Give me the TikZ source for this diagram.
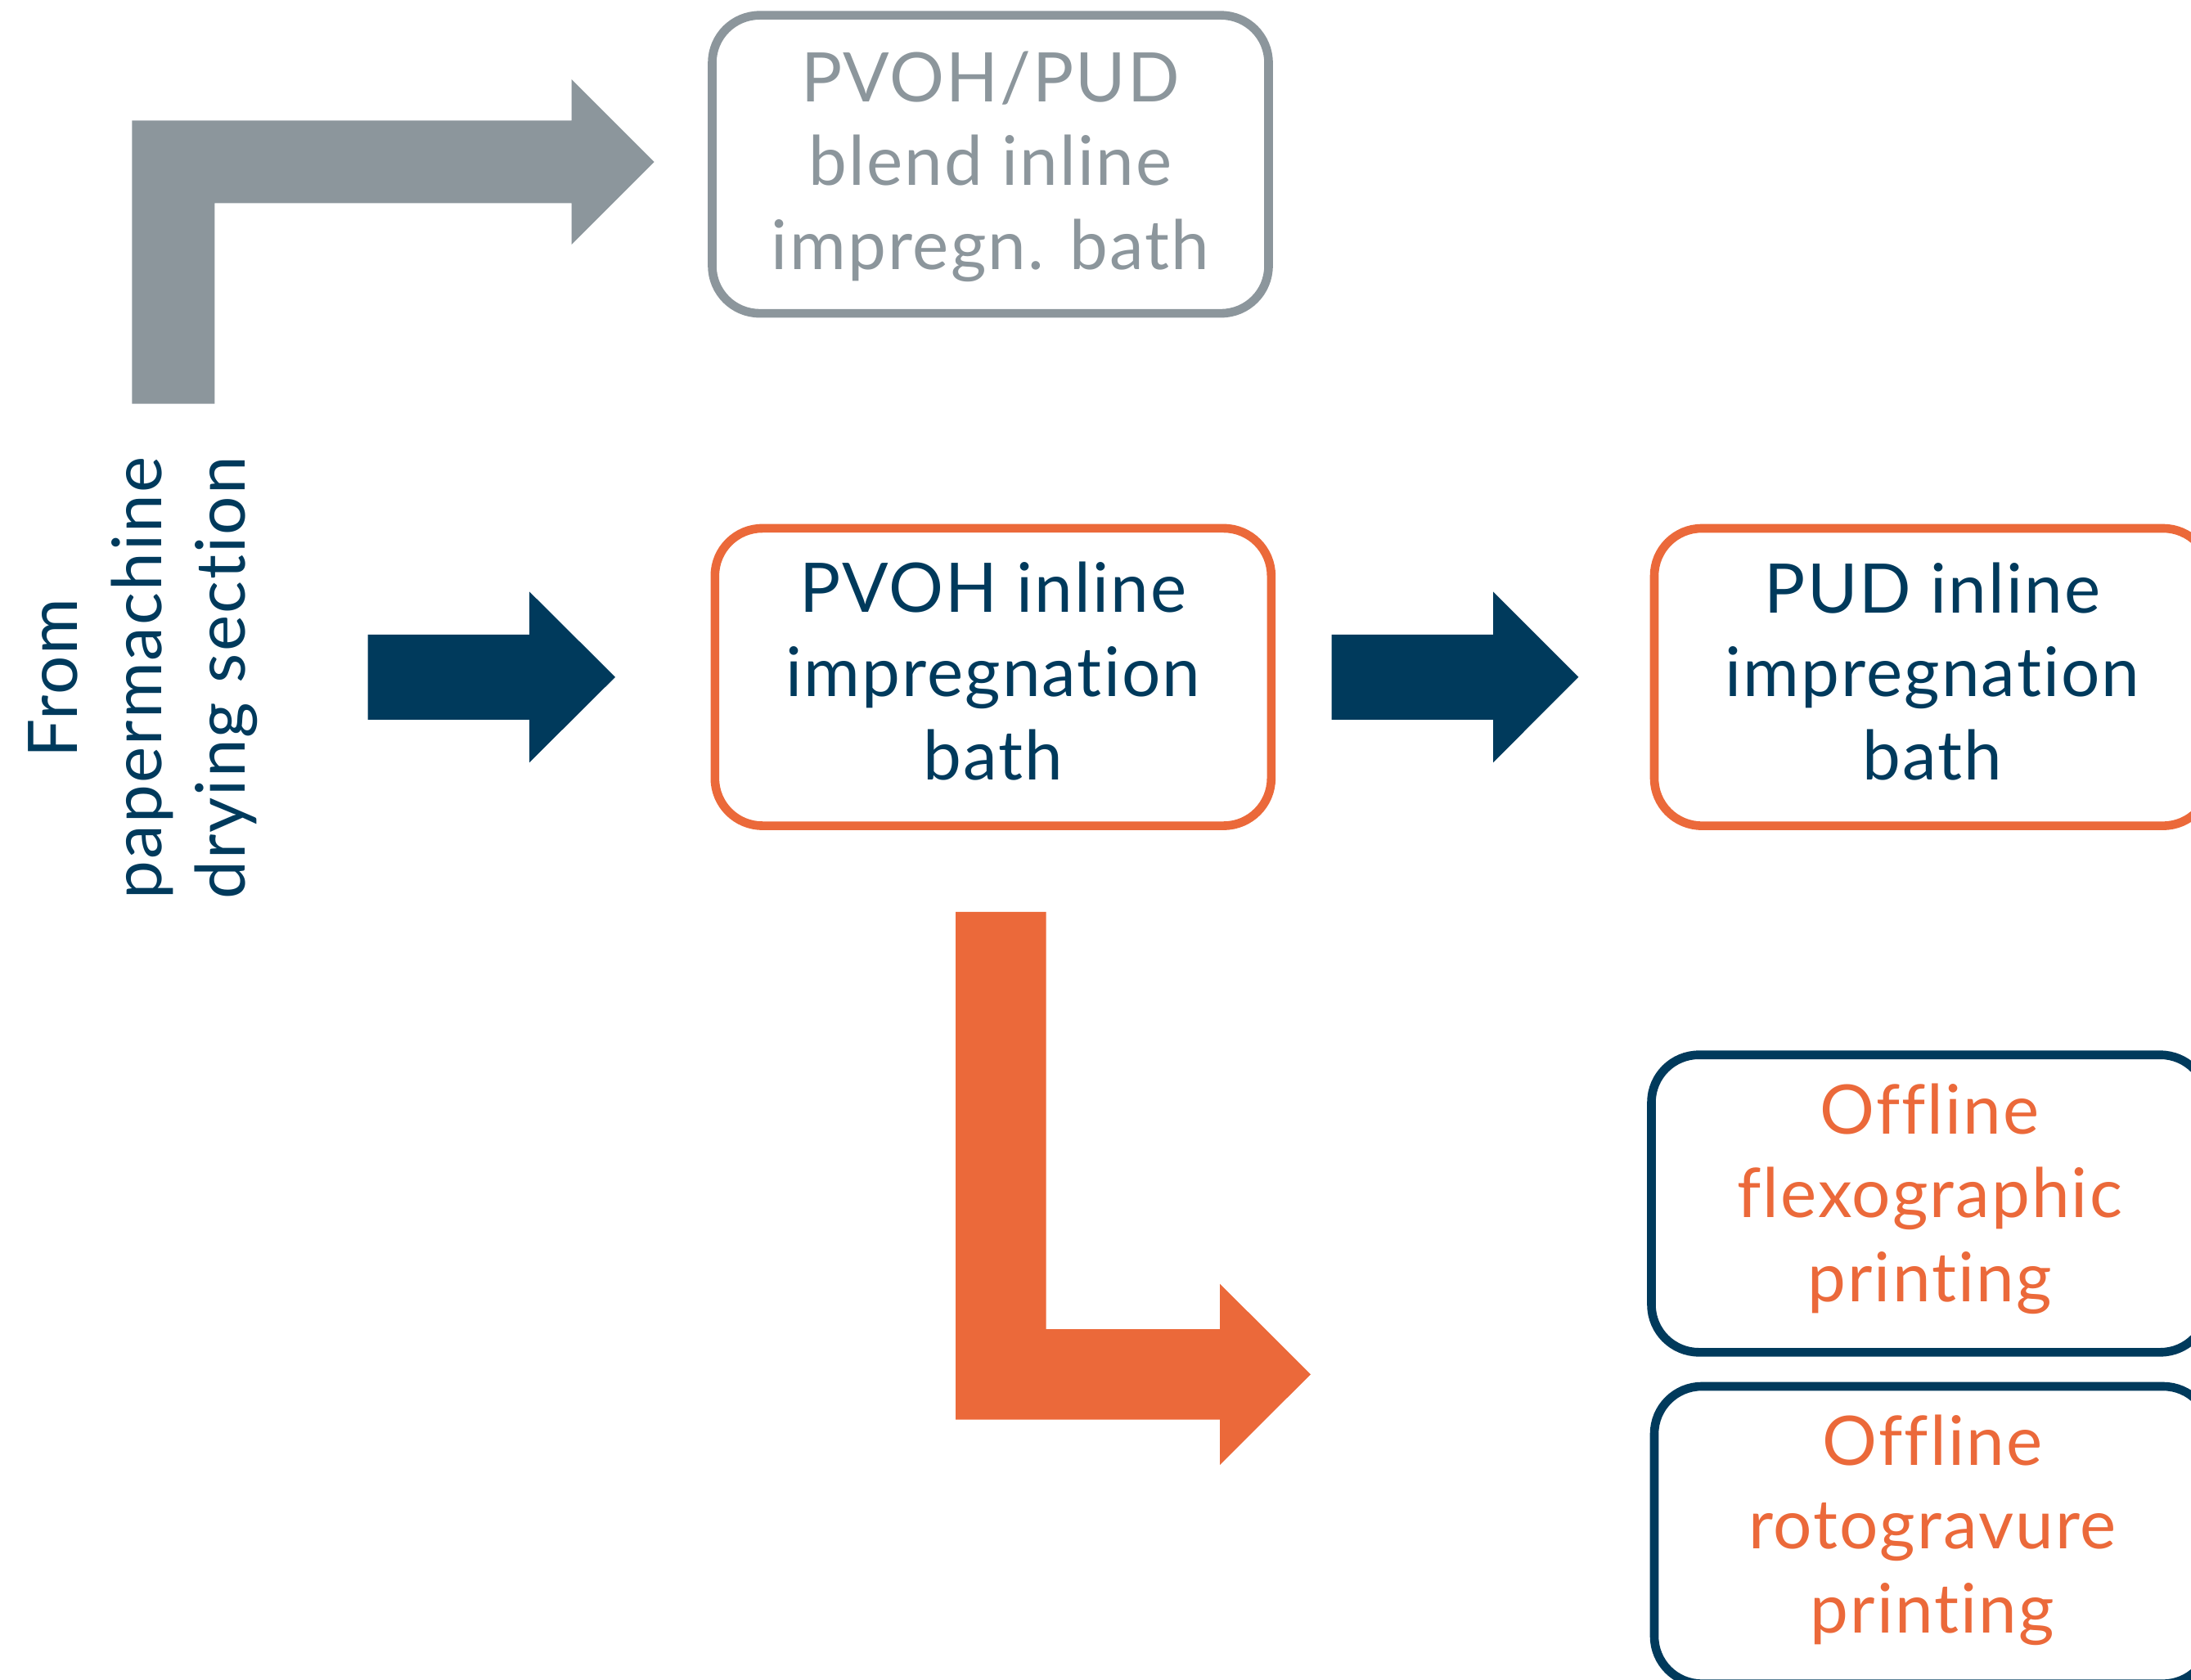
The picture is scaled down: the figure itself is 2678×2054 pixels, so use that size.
\documentclass[tikz,border=0pt]{standalone}
\usepackage{fontspec}
\setmainfont{Lato}[Ligatures=NoCommon, LetterSpace=2.5]
\usetikzlibrary{calc}
\definecolor{navy}{HTML}{003A5C}
\definecolor{orng}{HTML}{EB693A}
\definecolor{greyc}{HTML}{8C969C}
\newcommand\threeline[3]{\begin{tabular}[t]{@{}c@{}}#1\\#2\\#3\end{tabular}}
% straight block arrow: start, tip, shaft half, head half, head length, colour
\newcommand\hblockarrow[6]{\fill[#6] ($(#1)+(0,-#3)$) -- ($(#2)+(-#5,-#3)$) -- ($(#2)+(-#5,-#4)$) -- (#2) -- ($(#2)+(-#5,#4)$) -- ($(#2)+(-#5,#3)$) -- ($(#1)+(0,#3)$) -- cycle;}
\begin{document}
\begin{tikzpicture}[x=0.25pt,y=-0.25pt,
  txt/.style={font=\fontsize{20.9pt}{25.625pt}\selectfont},
  box/.style={txt, draw, rounded corners=14.5pt, line width=2.65pt,
    minimum width=170pt, minimum height=90.9pt, inner sep=0pt, text height=0pt}]
\useasboundingbox (0,0) rectangle (2678,2054);
\clip (0,0) rectangle (2678,2054);

% boxes
\node[box, draw=greyc, text=greyc, text depth=38.3pt, minimum height=91.1pt] (blend) at (1210.5,200.9)
  {\threeline{PVOH/PUD}{blend inline}{impregn. bath}};
\node[box, draw=orng, text=navy, text depth=39.4pt] (pvoh) at (1213.8,827.75)
  {\threeline{PVOH inline}{impregnation}{bath}};
\node[box, draw=orng, text=navy, text depth=39.4pt] (pud) at (2362,827.8)
  {\threeline{PUD inline}{impregnation}{bath}};
\node[box, draw=navy, text=orng, text depth=42.75pt] (flexo) at (2358.5,1471.5)
  {\threeline{Offline}{flexographic}{printing}};
\node[box, draw=navy, text=orng, text depth=42.9pt] (roto) at (2362,1876.8)
  {\threeline{Offline}{rotogravure}{printing}};

% source label
\node[txt, rotate=90, anchor=base, text=navy, inner sep=0pt] (src) at (94.7,829)
  {\threeline{From}{papermachine}{drying section}};

% arrow end points
\coordinate (gs) at (211.8,493.7);
\coordinate (gt) at (799.7,198);
\coordinate (a1s) at (449.5,827.8);
\coordinate (a1e) at (752,827.8);
\coordinate (a2s) at (1627.7,827.8);
\coordinate (a2e) at (1929.3,827.8);
\coordinate (os) at (1223.4,1114.8);
\coordinate (ot) at (1602,1680.3);

% grey L arrow (up, then right)
\fill[greyc] ($(gs)+(-50.5,0)$) -- ($(gs |- gt)+(-50.5,-50.5)$) -- ($(gt)+(-101,-50.5)$)
  -- ($(gt)+(-101,-101)$) -- (gt) -- ($(gt)+(-101,101)$) -- ($(gt)+(-101,50.5)$)
  -- ($(gs |- gt)+(50.5,50.5)$) -- ($(gs)+(50.5,0)$) -- cycle;

% navy straight arrows
\hblockarrow{a1s}{a1e}{52}{104.5}{105}{navy}
\hblockarrow{a2s}{a2e}{52}{104.5}{104.3}{navy}

% orange L arrow (down, then right)
\fill[orng] ($(os)+(-55.3,0)$) -- ($(os |- ot)+(-55.3,55.3)$) -- ($(ot)+(-111,55.3)$)
  -- ($(ot)+(-111,110.7)$) -- (ot) -- ($(ot)+(-111,-110.7)$) -- ($(ot)+(-111,-55.3)$)
  -- ($(os |- ot)+(55.3,-55.3)$) -- ($(os)+(55.3,0)$) -- cycle;
\end{tikzpicture}
\end{document}
